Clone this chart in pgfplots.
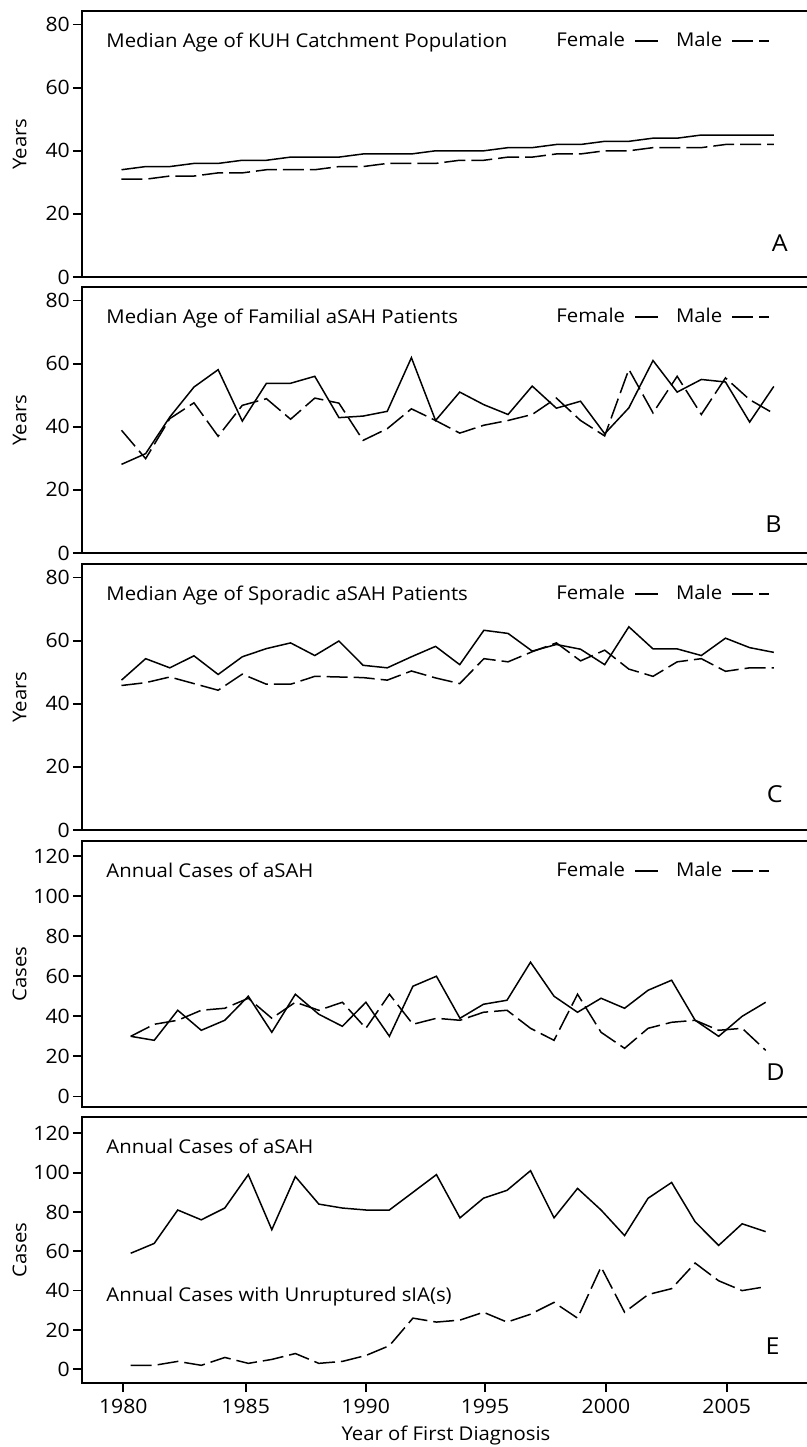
\documentclass[border=0pt]{standalone}
\usepackage{fontspec}
\setmainfont{Open Sans}[FakeStretch=1.07]
\usepackage{pgfplots}
\usepackage{pgfplotstable}
\pgfplotsset{compat=1.18}

\newcommand{\chartfont}{\fontsize{9.5pt}{11pt}\selectfont}
\newcommand{\tickfont}{\fontsize{9.9pt}{11pt}\selectfont}
\newcommand{\letterfont}{\fontsize{11.7pt}{13pt}\selectfont}

% median age, KUH catchment population
\pgfplotstableread{
year f m
1980 34 31
1981 35 31
1982 35 32
1983 36 32
1984 36 33
1985 37 33
1986 37 34
1987 38 34
1988 38 34
1989 38 35
1990 39 35
1991 39 36
1992 39 36
1993 40 36
1994 40 37
1995 40 37
1996 41 38
1997 41 38
1998 42 39
1999 42 39
2000 43 40
2001 43 40
2002 44 41
2003 44 41
2004 45 41
2005 45 42
2006 45 42
2007 45 42
}\catchment

% median age, familial aSAH
\pgfplotstableread{
year f m
1980 28.1 38.9
1981 31.5 29.9
1982 43.1 42.6
1983 52.6 47.6
1984 58.1 37.0
1985 41.8 46.8
1986 53.8 48.9
1987 53.8 42.4
1988 56.0 49.1
1989 42.9 47.5
1990 43.4 35.7
1991 44.9 39.4
1992 61.9 45.7
1993 42.0 42.0
1994 51.0 38.0
1995 47.0 40.5
1996 43.9 42.0
1997 52.9 43.9
1998 45.9 49.1
1999 48.1 42.0
2000 37.8 37.1
2001 46.0 58.2
2002 61.0 44.4
2003 51.0 56.0
2004 55.0 43.9
2005 54.2 55.5
2006 41.5 48.6
2007 52.8 44.2
}\familial

% median age, sporadic aSAH
\pgfplotstableread{
year f m
1980 47.5 45.8
1981 54.3 46.7
1982 51.4 48.5
1983 55.2 46.4
1984 49.3 44.3
1985 54.9 49.4
1986 57.5 46.2
1987 59.3 46.2
1988 55.3 48.7
1989 59.9 48.5
1990 52.2 48.3
1991 51.4 47.5
1992 54.9 50.4
1993 58.2 48.2
1994 52.4 46.4
1995 63.3 54.3
1996 62.3 53.3
1997 56.7 56.5
1998 58.8 59.3
1999 57.3 53.6
2000 52.4 57.0
2001 64.4 51.0
2002 57.4 48.7
2003 57.4 53.3
2004 55.3 54.3
2005 60.8 50.3
2006 57.8 51.4
2007 56.3 51.4
}\sporadic

% annual cases by sex
\pgfplotstableread{
year f m
1980 30 30
1981 28 36
1982 43 38
1983 33 43
1984 38 44
1985 50 49
1986 32 39
1987 51 47
1988 41 43
1989 35 47
1990 47 34
1991 30 51
1992 55 36
1993 60 39
1994 39 38
1995 46 42
1996 48 43
1997 67 34
1998 50 28
1999 42 51
2000 49 32
2001 44 24
2002 53 34
2003 58 37
2004 38 38
2005 30 33
2006 40 34
2007 47 23
}\annualcases

% annual cases total / with unruptured sIA
\pgfplotstableread{
year all sia
1980 59 2
1981 64 2
1982 81 4
1983 76 2
1984 82 6
1985 99 3
1986 71 5
1987 98 8
1988 84 3
1989 82 4
1990 81 7
1991 81 12
1992 90 26
1993 99 24
1994 77 25
1995 87 29
1996 91 24
1997 101 28
1998 77 34
1999 92 26
2000 81 52
2001 68 29
2002 87 38
2003 95 41
2004 75 54
2005 63 45
2006 74 40
2007 70 42
}\totals

\tikzset{
  paneltitle/.style={anchor=base west, inner sep=0pt, font=\chartfont},
  panelletter/.style={anchor=south east, inner sep=0pt, font=\letterfont},
}

\pgfplotsset{
  panel/.style={
    scale only axis, width=364pt, height=133pt,
    anchor=north west,
    axis line style={line width=1pt},
    major tick style={black, line width=0.85pt},
    tick align=outside, major tick length=4.6pt,
    ytick pos=left, xtick pos=bottom,
    xtick=\empty,
    tick label style={font=\tickfont},
    yticklabel style={xshift=2pt},
    label style={font=\chartfont},
    /pgf/number format/assume math mode=true,
    /pgf/number format/1000 sep={},
    ylabel style={at={(axis description cs:-0.0755,0.5)}, anchor=south, inner sep=0pt},
    legend columns=2, legend plot pos=right,
    legend style={at={(axis description cs:0.6511,0.887)}, anchor=west,
      draw=none, fill=none, inner sep=0pt, font=\chartfont,
      nodes={inner sep=0pt},
      /tikz/every odd column/.style={column sep=4.5pt},
      /tikz/every even column/.style={column sep=8.5pt}},
  },
  agepanel/.style={panel, xmin=1978.365, xmax=2008.498,
    ymin=0, ymax=84.3, ytick={0,20,40,60,80}, ylabel={Years}},
  fem/.style={black, line width=0.75pt,
    legend image code/.code={\draw[black, line width=1pt] (0pt,0pt) -- (11.5pt,0pt);}},
  mal/.style={black, line width=0.75pt, dash pattern=on 10.5pt off 3pt,
    legend image code/.code={\draw[black, line width=1pt, dash pattern=on 10.5pt off 3pt] (0pt,0pt) -- (18.5pt,0pt);}},
}

\begin{document}
\begin{tikzpicture}
\useasboundingbox (-41pt,5.5pt) rectangle (362.5pt,-718pt);

% A
\begin{axis}[agepanel, at={(0pt,0pt)}]
\addplot[fem] table[x=year, y=f] {\catchment};
\addlegendentry{Female}
\addplot[mal] table[x=year, y=m] {\catchment};
\addlegendentry{Male}
\node[paneltitle] at (rel axis cs:0.033,0.862) {Median Age of KUH Catchment Population};
\node[panelletter] at (rel axis cs:0.970,0.094) {A};
\end{axis}

% B
\begin{axis}[agepanel, at={(0pt,-138pt)}]
\addplot[fem] table[x=year, y=f] {\familial};
\addlegendentry{Female}
\addplot[mal] table[x=year, y=m] {\familial};
\addlegendentry{Male}
\node[paneltitle] at (rel axis cs:0.033,0.862) {Median Age of Familial aSAH Patients};
\node[panelletter] at (rel axis cs:0.9615,0.075) {B};
\end{axis}

% C
\begin{axis}[agepanel, at={(0pt,-276.5pt)}]
\addplot[fem] table[x=year, y=f] {\sporadic};
\addlegendentry{Female}
\addplot[mal] table[x=year, y=m] {\sporadic};
\addlegendentry{Male}
\node[paneltitle] at (rel axis cs:0.033,0.862) {Median Age of Sporadic aSAH Patients};
\node[panelletter] at (rel axis cs:0.963,0.1015) {C};
\end{axis}

% D
\begin{axis}[panel, at={(0pt,-415pt)},
  xmin=1977.929, xmax=2008.884, ymin=-5.3, ymax=127.5,
  ytick={0,20,40,60,80,100,120}, ylabel={Cases}]
\addplot[fem] table[x=year, y=f] {\annualcases};
\addlegendentry{Female}
\addplot[mal] table[x=year, y=m] {\annualcases};
\addlegendentry{Male}
\node[paneltitle] at (rel axis cs:0.033,0.862) {Annual Cases of aSAH};
\node[panelletter] at (rel axis cs:0.9657,0.098) {D};
\end{axis}

% E
\begin{axis}[panel, at={(0pt,-553pt)},
  xmin=1977.929, xmax=2008.884, ymin=-7, ymax=128.3,
  ytick={0,20,40,60,80,100,120}, ylabel={Cases},
  xtick={1979.685,1984.889,1989.991,1995.064,2000.208,2005.340},
  xticklabels={1980,1985,1990,1995,2000,2005},
  xlabel={Year of First Diagnosis},
  xlabel style={at={(axis description cs:0.5,-0.2143)}, anchor=base}]
\addplot[fem] table[x=year, y=all] {\totals};
\addplot[mal] table[x=year, y=sia] {\totals};
\node[paneltitle] at (rel axis cs:0.033,0.862) {Annual Cases of aSAH};
\node[paneltitle] at (rel axis cs:0.033,0.305) {Annual Cases with Unruptured sIA(s)};
\node[panelletter] at (rel axis cs:0.9588,0.105) {E};
\end{axis}
\end{tikzpicture}
\end{document}
